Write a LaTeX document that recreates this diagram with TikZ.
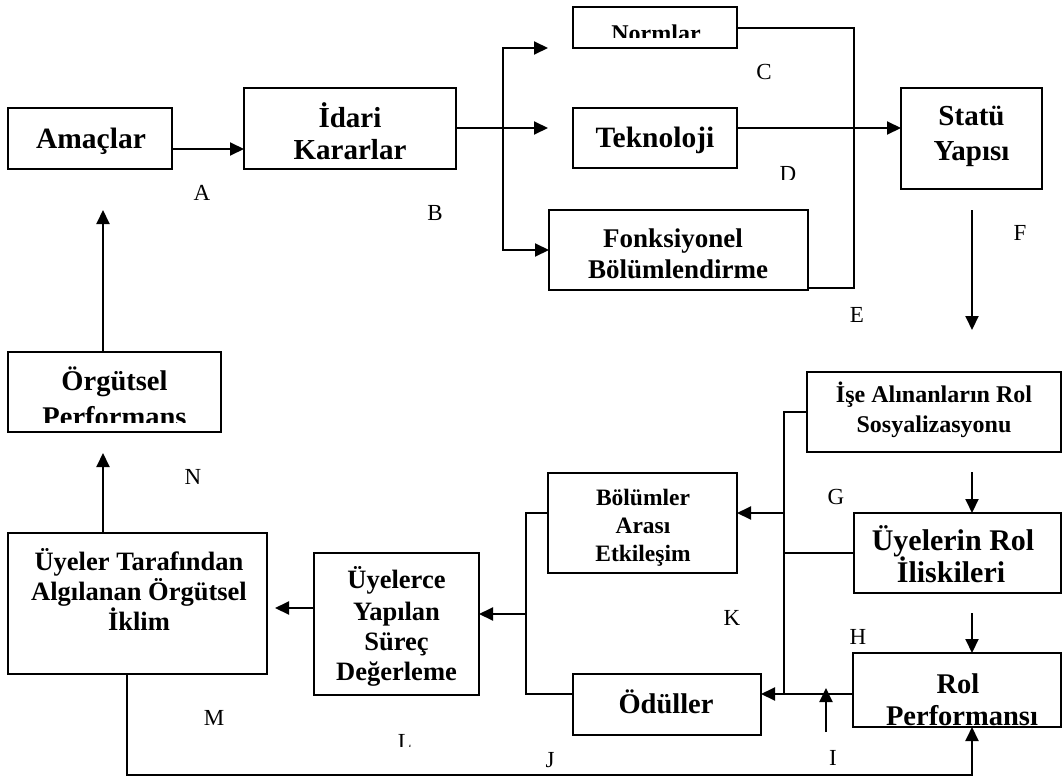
\documentclass[tikz,border=0pt]{standalone}
\usepackage{fontspec}
\setmainfont{Liberation Serif}
\usetikzlibrary{arrows.meta}
\begin{document}
\begin{tikzpicture}[x=1pt,y=-1pt,
  >={Triangle[length=14pt,width=13pt]},
  box/.style={draw, line width=2pt, inner sep=0pt, outer sep=0pt},
  sz/.style 2 args={minimum width=#1pt, minimum height=#2pt},
  ln/.style={line width=2pt},
  thinln/.style={line width=1.3pt},
  txt/.style={inner sep=0pt, anchor=base},
  fsz/.style={font=\bfseries\fontsize{#1}{#1}\selectfont},
  lab/.style={inner sep=0pt, font=\fontsize{23}{27}\selectfont},
]
\fill[white] (0,0) rectangle (1063,779);
\useasboundingbox (0,0) rectangle (1063,779);

% ---------- boxes ----------
\node[box, sz={164}{61}]  (amac)  at (90,138.5)   {};
\node[box, sz={212}{81}]  (idari) at (350,128.5)  {};
\node[box, sz={164}{41}]  (norm)  at (655,27.5)   {};
\node[box, sz={164}{60}]  (tek)   at (655,138)    {};
\node[box, sz={259}{80}]  (fonk)  at (678.5,250)  {};
\node[box, sz={141}{101}] (statu) at (971.5,138.5){};
\node[box, sz={213}{80}]  (orgt)  at (114.5,392)  {};
\node[box, sz={259}{141}] (uyel)  at (137.5,603.5){};
\node[box, sz={165}{142}] (uyce)  at (396.5,624)  {};
\node[box, sz={189}{100}] (bolum) at (642.5,523)  {};
\node[box, sz={188}{61}]  (odul)  at (667,704.5)  {};
\node[box, sz={254}{80}]  (ise)   at (934,412)    {};
\node[box, sz={207}{80}]  (uyr)   at (957.5,553)  {};
\node[box, sz={208}{74}]  (rol)   at (957,690)    {};

% ---------- box texts ----------
\node[txt, fsz=29.5] (amac-t) at (91,148) {Amaçlar};
\node[txt, fsz=29] (idari-t1) at (350,127) {İdari};
\node[txt, fsz=29] (idari-t2) at (350,159) {Kararlar};
\begin{scope}
  \clip (573,0) rectangle (737,37);
  \node[txt, fsz=24] (norm-t) at (656,41) {Normlar};
\end{scope}
\node[txt, fsz=29.5] (tek-t) at (655,147) {Teknoloji};
\node[txt, fsz=27] (fonk-t1) at (673,247) {Fonksiyonel};
\node[txt, fsz=27] (fonk-t2) at (678,278) {Bölümlendirme};
\node[txt, fsz=29] (statu-t1) at (971.5,125) {Statü};
\node[txt, fsz=29] (statu-t2) at (971.5,160) {Yapısı};
\node[txt, fsz=28.5] (orgt-t1) at (114.5,390) {Örgütsel};
\begin{scope}
  \clip (8,400) rectangle (221,422);
  \node[txt, fsz=28.5] (orgt-t2) at (114.5,426) {Performans};
\end{scope}
\node[txt, fsz=26.5] (uyel-t1) at (139,570) {Üyeler Tarafından};
\node[txt, fsz=26.5] (uyel-t2) at (139,600) {Algılanan Örgütsel};
\node[txt, fsz=26.5] (uyel-t3) at (139,630) {İklim};
\node[txt, fsz=26.5] (uyce-t1) at (396.5,588) {Üyelerce};
\node[txt, fsz=26.5] (uyce-t2) at (396.5,620) {Yapılan};
\node[txt, fsz=26.5] (uyce-t3) at (396.5,650) {Süreç};
\node[txt, fsz=26.5] (uyce-t4) at (396.5,680) {Değerleme};
\node[txt, fsz=23.5] (bolum-t1) at (643,505) {Bölümler};
\node[txt, fsz=23.5] (bolum-t2) at (643,533) {Arası};
\node[txt, fsz=23.5] (bolum-t3) at (643,561) {Etkileşim};
\node[txt, fsz=28.5] (odul-t) at (666,713) {Ödüller};
\node[txt, fsz=24] (ise-t1) at (934,402) {İşe Alınanların Rol};
\node[txt, fsz=24] (ise-t2) at (934,432) {Sosyalizasyonu};
\node[txt, fsz=30] (uyr-t1) at (953,550) {Üyelerin Rol};
\node[txt, fsz=30] (uyr-t2) at (951,582) {İliskileri};
\node[txt, fsz=28.5] (rol-t1) at (958,693) {Rol};
\begin{scope}
  \clip (853,700) rectangle (1061,726);
  \node[txt, fsz=28.5] (rol-t2) at (962,725) {Performansı};
\end{scope}

% ---------- letter labels ----------
\node[lab] (lA) at (202,193) {A};
\node[lab] (lB) at (435,213) {B};
\node[lab] (lC) at (764,72) {C};
\begin{scope}
  \clip (760,150) rectangle (820,179);
  \node[lab] (lD) at (788,173.5) {D};
\end{scope}
\node[lab] (lE) at (857,315) {E};
\node[lab] (lF) at (1020,233) {F};
\node[lab] (lG) at (836,497) {G};
\node[lab] (lH) at (858,637) {H};
\node[lab] (lI) at (833,758) {I};
\node[lab] (lJ) at (550,760) {J};
\node[lab] (lK) at (732,618) {K};
\begin{scope}
  \clip (380,720) rectangle (430,746);
  \node[lab] (lL) at (405,742) {L};
\end{scope}
\node[lab] (lM) at (214,718) {M};
\node[lab] (lN) at (193,477) {N};

% ---------- junction and free-end points ----------
\coordinate (fkt)  at (503,48);
\coordinate (fkb)  at (503,250);
\coordinate (tin)  at (548,128);
\coordinate (nin)  at (548,48);
\coordinate (eloop) at (854,288);
\coordinate (f1) at (972,210);
\coordinate (f2) at (972,330);
\coordinate (b1b) at (784,694);
\coordinate (b1g) at (784,513);
\coordinate (b1h) at (784,553);
\coordinate (g1) at (972,472);
\coordinate (h1) at (972,613);
\coordinate (i1) at (826,732);
\coordinate (i2) at (826,688);
\coordinate (b2b) at (526,694);
\coordinate (b2m) at (526,614);
\coordinate (m1) at (275,608);
\coordinate (n1) at (103,453);
\coordinate (a1) at (103,210);
\coordinate (j1) at (127,775);
\coordinate (j2) at (972,775);

% ---------- connectors ----------
\draw[ln,->] ([yshift=-10.5pt]amac.east) -- ([yshift=-10.5pt]amac.east -| idari.west);
\draw[ln,->] (idari.east |- tin) -- (tin);
\draw[ln,<->] (nin) -- (fkt) -- (fkb) -- (fonk.west);
\draw[ln] ([yshift=-0.5pt]norm.east) -| (eloop) -- (eloop -| fonk.east);
\draw[ln,->] ([yshift=10pt]tek.east) -- ([yshift=10pt]tek.east -| statu.west);
\draw[ln,->] (f1) -- (f2);

\draw[ln] (ise.west) -| (b1b);
\draw[ln,->] (b1g) -- (b1g -| bolum.east);
\draw[thinln] (b1h) -- (uyr.west);
\draw[ln,->] ([yshift=-4pt]rol.west) -- ([yshift=-4pt]rol.west -| odul.east);
\draw[ln,->] (g1) -- (g1 |- uyr.north);
\draw[ln,->] (h1) -- (h1 |- rol.north);
\draw[ln,->] (i1) -- (i2);

\draw[ln] ([yshift=10pt]bolum.west) -| (b2b) -- (b2b -| odul.west);
\draw[ln,->] (b2m) -- (b2m -| uyce.east);
\draw[ln,->] (uyce.west |- m1) -- (m1);
\draw[ln,->] (n1 |- uyel.north) -- (n1);
\draw[ln,->] (a1 |- orgt.north) -- (a1);
\draw[ln,->] (j1 |- uyel.south) -- (j1) -- (j2) -- (j2 |- rol.south);
\end{tikzpicture}
\end{document}
